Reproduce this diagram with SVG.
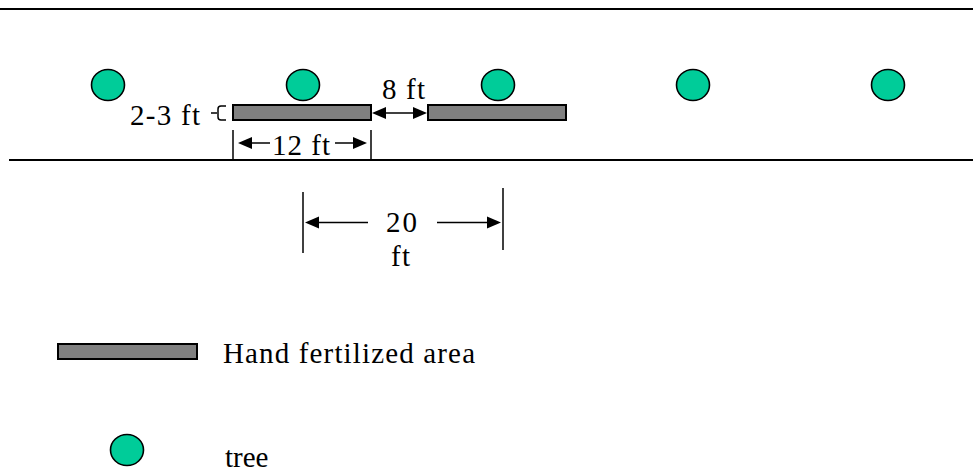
<svg xmlns="http://www.w3.org/2000/svg" width="973" height="473" viewBox="0 0 973 473">
<style>
.tree{fill:#00CC99;stroke:#000;stroke-width:1.6}
.bar{fill:#808080;stroke:#000;stroke-width:2}
.ln{stroke:#000;stroke-width:1.5;fill:none}
.ah{fill:#000;stroke:none}
text{font-family:"Liberation Serif","DejaVu Serif",serif;font-size:29px;fill:#000}
</style>
<defs>
<polygon id="hr" points="0,0 -14,-6 -14,6"/>
</defs>
<rect width="973" height="473" fill="#fff"/>
<g id="edges">
<line x1="0" y1="9" x2="973" y2="9" stroke="#000" stroke-width="2.2"/>
<line x1="9" y1="160" x2="973" y2="160" stroke="#000" stroke-width="2.2"/>
</g>
<g id="trees">
<ellipse id="tree1" class="tree" cx="108" cy="85" rx="16.5" ry="15.5"/>
<ellipse id="tree2" class="tree" cx="303" cy="85" rx="16.5" ry="15.5"/>
<ellipse id="tree3" class="tree" cx="498" cy="85" rx="16.5" ry="15.5"/>
<ellipse id="tree4" class="tree" cx="693" cy="85" rx="16.5" ry="15.5"/>
<ellipse id="tree5" class="tree" cx="888" cy="85" rx="16.5" ry="15.5"/>
</g>
<g id="area1"><rect class="bar" x="233" y="105" width="138" height="15"/></g>
<g id="area2"><rect class="bar" x="428" y="105" width="138" height="15"/></g>
<g id="connectors">
<line class="ln" x1="380" y1="113" x2="418" y2="113" stroke-width="2"/>
<polygon class="ah" points="372,113 386,107 386,119"/>
<polygon class="ah" points="427,113 413,107 413,119"/>
<path class="ln" d="M211,113 H217 M226,106 H221 Q218,106 218,109 V117 Q218,120 221,120 H226"/>
<line class="ln" x1="233" y1="130" x2="233" y2="160"/>
<line class="ln" x1="371" y1="130" x2="371" y2="160"/>
<line class="ln" x1="270" y1="143" x2="248" y2="143" stroke-width="2"/>
<polygon class="ah" points="238,143 252,137 252,149"/>
<line class="ln" x1="335" y1="143" x2="357" y2="143" stroke-width="2"/>
<polygon class="ah" points="367,143 353,137 353,149"/>
<line class="ln" x1="303" y1="192" x2="303" y2="253"/>
<line class="ln" x1="503" y1="188" x2="503" y2="250"/>
<line class="ln" x1="368" y1="222.5" x2="315" y2="222.5" stroke-width="2"/>
<polygon class="ah" points="305,222.5 319,216.5 319,228.5"/>
<line class="ln" x1="437" y1="222.5" x2="491" y2="222.5" stroke-width="2"/>
<polygon class="ah" points="501,222.5 487,216.5 487,228.5"/>
</g>
<g id="labels">
<text x="382" y="99" textLength="43">8 ft</text>
<text x="130" y="125" textLength="70">2-3 ft</text>
<text x="272" y="155" textLength="58">12 ft</text>
<text x="386" y="232" textLength="31">20</text>
<text x="391" y="266" textLength="19">ft</text>
</g>
<g id="legend">
<rect class="bar" x="58" y="344" width="139" height="15"/>
<text x="223" y="363" textLength="252">Hand fertilized area</text>
<ellipse class="tree" cx="127" cy="450" rx="16.5" ry="15.5"/>
<text x="225" y="467">tree</text>
</g>
</svg>
